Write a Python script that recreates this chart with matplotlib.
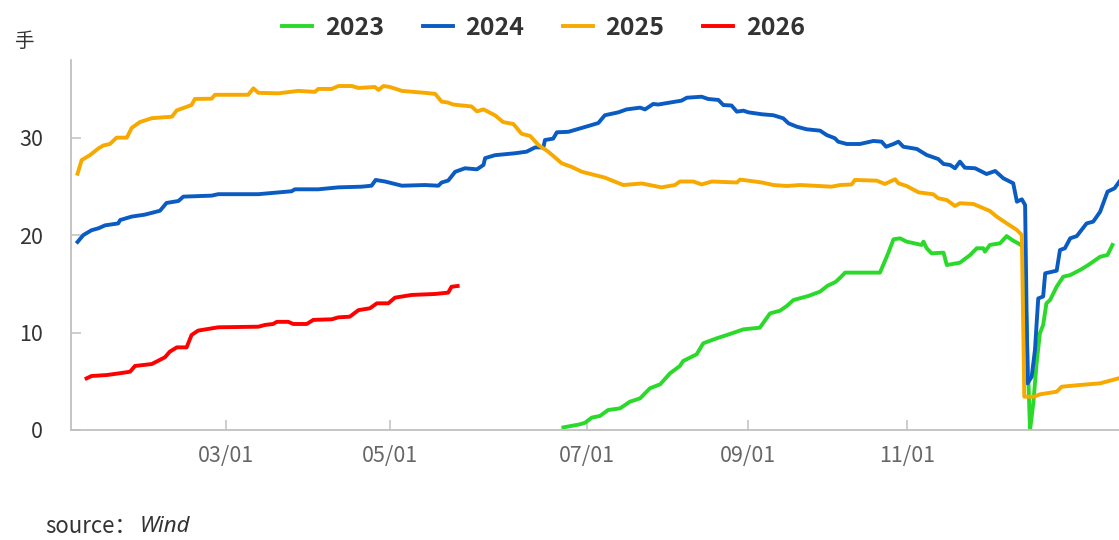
import matplotlib
matplotlib.use("Agg")
import matplotlib.pyplot as plt

plt.rcParams['font.family'] = ['Noto Sans CJK SC', 'DejaVu Sans']

# x = position on the trading-day category axis
TICK_POS = [37.8, 77.8, 125.9, 165.1, 203.9]
TICK_LABELS = ["03/01", "05/01", "07/01", "09/01", "11/01"]

X_2023 = [120.1, 124.1, 125.4, 127, 129, 131, 133.9, 136.3, 138.8, 141.2,
          143.7, 146.1, 148.5, 149.3, 152.6, 154.2, 157.5, 160.7, 164, 168,
          170.5, 172.9, 174.6, 176.2, 179.8, 182.7, 184.5, 186.5, 188, 188.8,
          197.3, 199.3, 200.6, 202.2, 203.8, 207.5, 207.9, 208.7, 209.9, 212.8,
          213.6, 216.8, 219.3, 220.9, 222.5, 222.9, 224.1, 226.6, 228.2, 229.8,
          231, 232.3, 233.0, 233.9, 234.7, 235.5, 236.3, 237.1, 237.9, 238.8,
          240.4, 242, 243.7, 246.1, 248.1, 251, 252.8, 254]
Y_2023 = [0.27, 0.58, 0.75, 1.27, 1.44, 2.05, 2.22, 2.9, 3.25, 4.28,
          4.69, 5.82, 6.57, 7.08, 7.77, 8.9, 9.41, 9.85, 10.33, 10.5,
          11.97, 12.24, 12.73, 13.34, 13.75, 14.2, 14.8, 15.2, 15.8, 16.15,
          16.15, 18.13, 19.57, 19.67, 19.33, 18.99, 19.33, 18.65, 18.13, 18.2,
          16.93, 17.17, 17.96, 18.65, 18.65, 18.3, 18.99, 19.16, 19.9, 19.43,
          19.16, 18.8, 11.6, 0, 2.74, 6.84, 9.92, 10.78, 13.0, 13.34,
          14.71, 15.73, 15.9, 16.42, 16.93, 17.78, 17.96, 18.99]

X_2024 = [1.6, 3, 5, 6.7, 8.3, 11.5, 12, 14.8, 18, 21.7,
          23.3, 26.2, 27.4, 34.3, 35.9, 45.7, 53.8, 54.6, 60.3, 65.2,
          70.9, 73.3, 74.3, 76.6, 80.7, 86.3, 89.6, 90.4, 92, 93.7,
          96.1, 99, 100.6, 101, 103.4, 108.3, 111.1, 113.2, 115.2, 115.6,
          117.6, 118.5, 121.3, 126.2, 128.6, 130.2, 133.5, 135.5, 138.8, 140,
          142, 143.2, 148.9, 150.2, 153.8, 155.4, 157.9, 159.1, 161.1, 162.4,
          164, 165.2, 168.5, 171.3, 173.7, 175, 177, 179.4, 182.7, 184.3,
          186.3, 187.1, 189.2, 192.4, 195.7, 197.7, 198.8, 200.6, 201.8, 203,
          206.3, 208.7, 211.5, 212.8, 214.4, 215.6, 216.8, 218, 220.5, 223.3,
          225.4, 227.4, 229.8, 230.7, 231.9, 232.7, 233.3, 234.3, 235.1, 235.9,
          237.1, 237.6, 240.4, 241.2, 242.4, 243.7, 245.3, 247.7, 249.3, 251,
          252.8, 254.5, 255.7]
Y_2024 = [19.3, 20.0, 20.5, 20.7, 21.0, 21.2, 21.55, 21.9, 22.1, 22.5,
          23.3, 23.5, 23.95, 24.05, 24.2, 24.2, 24.5, 24.7, 24.7, 24.9,
          24.97, 25.07, 25.66, 25.5, 25.07, 25.14, 25.07, 25.4, 25.6, 26.5,
          26.86, 26.75, 27.2, 27.9, 28.2, 28.4, 28.56, 29.0, 29.0, 29.76,
          29.9, 30.55, 30.6, 31.2, 31.5, 32.3, 32.6, 32.9, 33.08, 32.9,
          33.46, 33.4, 33.8, 34.1, 34.2, 33.97, 33.87, 33.35, 33.3, 32.67,
          32.77, 32.6, 32.4, 32.3, 31.99, 31.47, 31.13, 30.86, 30.72, 30.27,
          29.94, 29.59, 29.35, 29.35, 29.66, 29.59, 29.07, 29.35, 29.59, 29.07,
          28.84, 28.22, 27.81, 27.3, 27.2, 26.86, 27.54, 26.92, 26.86, 26.27,
          26.58, 25.83, 25.32, 23.43, 23.67, 23.09, 4.79, 5.47, 8.2, 13.5,
          13.7, 16.08, 16.35, 18.47, 18.65, 19.67, 19.9, 21.2, 21.38, 22.4,
          24.46, 24.8, 25.5]

X_2025 = [1.6, 2.6, 4.6, 6.7, 7.9, 9.5, 11.1, 13.6, 14.8, 16.8,
          19.7, 24.6, 25.8, 29.4, 30.2, 34.3, 35.1, 43.2, 44.5, 45.7,
          50.6, 55.4, 59.5, 60.3, 63.6, 65.2, 68.5, 70.1, 74.1, 75,
          76.2, 77.8, 80.7, 86.3, 88.8, 90.4, 92, 93.2, 97.7, 99,
          100.6, 103.4, 105.4, 107.9, 109.9, 112, 114, 116.4, 119.7, 122.1,
          124.6, 130.2, 134.7, 139.2, 144, 147.3, 148.5, 151.8, 153.8, 156.3,
          162.4, 163.2, 168.5, 171.3, 174.6, 177.8, 185.5, 187.6, 190.4, 191.2,
          196.5, 198.5, 201, 201.8, 203.8, 206.7, 210.3, 211.5, 213.6, 215.6,
          216.8, 220.1, 224.1, 225.8, 228.2, 230.7, 231.9, 232.5, 234.9, 236.3,
          240.4, 241.6, 246.1, 251, 255.5]
Y_2025 = [26.3, 27.7, 28.2, 28.9, 29.2, 29.35, 30.0, 30.0, 31.0, 31.6,
          32.0, 32.15, 32.8, 33.35, 33.97, 34.0, 34.4, 34.4, 35.06, 34.6,
          34.55, 34.8, 34.7, 35.0, 35.0, 35.3, 35.3, 35.1, 35.2, 34.9,
          35.3, 35.2, 34.8, 34.6, 34.5, 33.7, 33.6, 33.4, 33.2, 32.7,
          32.9, 32.3, 31.6, 31.4, 30.4, 30.17, 29.25, 28.56, 27.37, 27.0,
          26.5, 25.9, 25.14, 25.3, 24.9, 25.14, 25.5, 25.5, 25.2, 25.5,
          25.4, 25.7, 25.4, 25.14, 25.04, 25.14, 24.97, 25.14, 25.2, 25.66,
          25.59, 25.25, 25.73, 25.32, 25.04, 24.39, 24.19, 23.78, 23.6, 22.99,
          23.27, 23.19, 22.48, 21.89, 21.21, 20.53, 20.0, 3.42, 3.42, 3.66,
          3.93, 4.44, 4.62, 4.79, 5.3]

X_2026 = [3.8, 5, 8.7, 11.5, 14.4, 15.6, 19.7, 22.9, 24.1, 25.8,
          28.2, 29.4, 31, 35.9, 45.7, 47.3, 49.3, 50.2, 53, 54.2,
          57.5, 59.1, 63.6, 65.2, 68, 70.1, 72.9, 74.6, 77.4, 79,
          83.1, 88.8, 92, 92.8, 94.3]
Y_2026 = [5.3, 5.54, 5.64, 5.8, 5.98, 6.57, 6.77, 7.46, 8.04, 8.48,
          8.48, 9.75, 10.2, 10.54, 10.6, 10.78, 10.88, 11.1, 11.1, 10.88,
          10.88, 11.3, 11.36, 11.56, 11.63, 12.3, 12.49, 13.0, 13.0, 13.58,
          13.86, 13.96, 14.1, 14.7, 14.78]

SERIES = [
    ("2023", X_2023, Y_2023, "#2ad92a"),
    ("2024", X_2024, Y_2024, "#0a5cc2"),
    ("2025", X_2025, Y_2025, "#f7a900"),
    ("2026", X_2026, Y_2026, "#ff0000"),
]

fig = plt.figure(figsize=(11.19, 5.4), dpi=100)
ax = fig.add_axes([71 / 1119, 110 / 540, 1048 / 1119, 370 / 540])

for name, xs, ys, color in SERIES:
    ax.plot(xs, ys, color=color, linewidth=2.8, label=name, solid_joinstyle='round')

ax.set_xlim(0, 255.6)
ax.set_ylim(0, 37.97)

ax.set_xticks(TICK_POS)
ax.set_xticklabels(TICK_LABELS)
ax.set_yticks([0, 10, 20, 30])
ax.tick_params(axis='x', direction='in', length=7.5, width=1.1, color='#c0c0c0',
               labelsize=15.5, labelcolor='#666666', pad=11)
ax.tick_params(axis='y', direction='in', length=7.5, width=1.1, color='#c0c0c0',
               labelsize=15.5, labelcolor='#333333', pad=20)

for side in ('top', 'right'):
    ax.spines[side].set_visible(False)
for side in ('left', 'bottom'):
    ax.spines[side].set_color('#c0c0c0')
    ax.spines[side].set_linewidth(1.3)

fig.text(24 / 1119, 1 - 42 / 540, "手", fontsize=14, color='#333333',
         ha='center', va='center')

fig.legend(loc='center', bbox_to_anchor=(543.5 / 1119, 1 - 28 / 540), ncol=4,
           frameon=False, handlelength=1.2, handletextpad=0.5,
           columnspacing=1.55, prop={'size': 18, 'weight': 'bold'})
for t in fig.legends[0].get_texts():
    t.set_color('#333333')

fig.text(45 / 1119, 1 - 526 / 540, "source：", fontsize=16, color='#333333',
         ha='left', va='center')
fig.text(140 / 1119, 1 - 526 / 540, "Wind", fontsize=16, color='#333333',
         ha='left', va='center', style='italic', family=['Noto Sans', 'DejaVu Sans'])

fig.savefig("out.png", dpi=100)
